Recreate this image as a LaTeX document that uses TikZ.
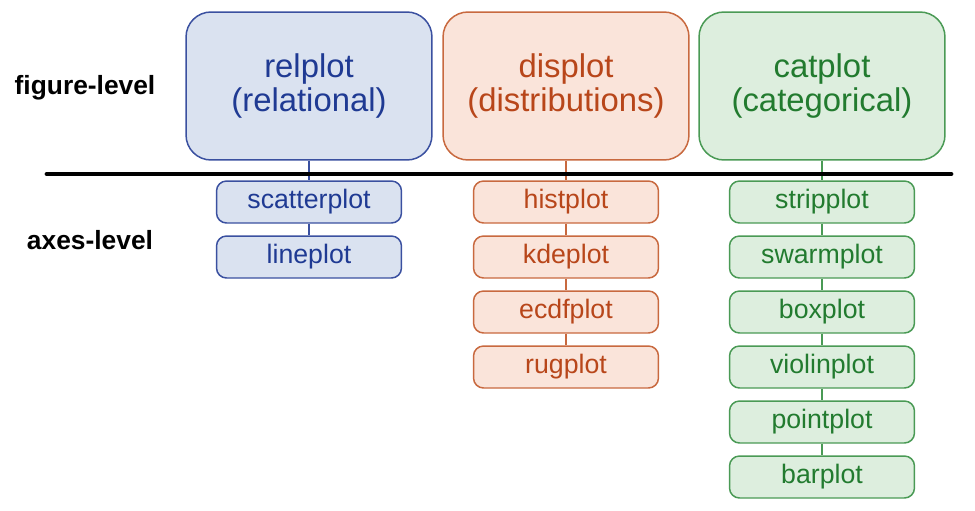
\documentclass[tikz,border=0pt]{standalone}
\usepackage{fontspec}
\setmainfont{Liberation Sans}
\definecolor{relF}{HTML}{DAE2F0}
\definecolor{relB}{HTML}{3A50A0}
\definecolor{relT}{HTML}{1F3A93}
\definecolor{disF}{HTML}{FAE4DA}
\definecolor{disB}{HTML}{C8693F}
\definecolor{disT}{HTML}{B8461A}
\definecolor{catF}{HTML}{DDEEDE}
\definecolor{catB}{HTML}{4A9A55}
\definecolor{catT}{HTML}{227B2F}
\tikzset{
  bigbox/.style={rounded corners=0.5cm, minimum width=4.92cm, minimum height=2.96cm,
    align=center, line width=0.85pt, font=\fontsize{18.7}{19.5}\selectfont},
  smallbox/.style={rounded corners=0.2cm, minimum width=3.7cm, minimum height=0.84cm,
    line width=0.85pt, font=\fontsize{15.2}{18}\selectfont},
  levelname/.style={font=\bfseries\fontsize{15}{18}\selectfont}
}
\begin{document}
\begin{tikzpicture}[x=0.02cm,y=-0.02cm]
  \useasboundingbox (0,0) rectangle (975,511);
%  \draw[help lines] (0,0) grid[step=50] (975,511);

  \foreach \kind/\x/\top/\sub/\kids in {
      rel/309/relplot/relational/{scatterplot,lineplot},
      dis/566/displot/distributions/{histplot,kdeplot,ecdfplot,rugplot},
      cat/822/catplot/categorical/{stripplot,swarmplot,boxplot,violinplot,pointplot,barplot}}
  {
    \node[bigbox,draw=\kind B,fill=\kind F,text=\kind T] (\kind) at (\x,86) {\top\\(\sub)};
    \foreach \k [count=\i] in \kids {
      \node[smallbox,draw=\kind B,fill=\kind F,text=\kind T] (\kind\i) at (\x,{147+55*\i}) {\k};
      \pgfmathtruncatemacro\prev{\i-1}
      \ifnum\i=1
        \draw[\kind B,line width=0.6pt] (\kind) -- (\kind\i);
      \else
        \draw[\kind B,line width=0.6pt] (\kind\prev) -- (\kind\i);
      \fi
    }
  }

  % level divider
  \coordinate (left) at (47,174);
  \coordinate (right) at (951,174);
  \draw[line width=2.8pt,line cap=round] (left) -- (right);

  \node[levelname] (figlevel) at (85,88) {figure-level};
  \node[levelname] (axlevel) at (90,240) {axes-level};
\end{tikzpicture}
\end{document}
